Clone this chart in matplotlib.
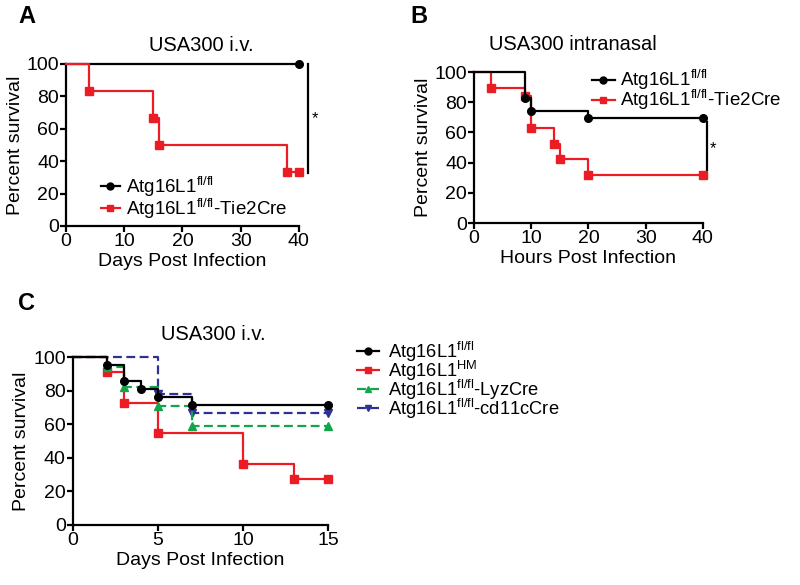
import numpy as np
import matplotlib
matplotlib.use("Agg")
import matplotlib.pyplot as plt

plt.rcParams['font.family'] = ['Liberation Sans', 'DejaVu Sans']
plt.rcParams['mathtext.fontset'] = 'custom'
plt.rcParams['mathtext.rm'] = 'Liberation Sans'
plt.rcParams['mathtext.it'] = 'Liberation Sans'

# DATA ------------------------------------------------------
RED = '#ec1c24'
GREEN = '#13a54b'
BLUE = '#2e3192'
BLACK = '#000000'

lab_fl = r'Atg16L1$^{\mathrm{fl/fl}}$'
lab_tie = r'Atg16L1$^{\mathrm{fl/fl}}$-Tie2Cre'
lab_hm = r'Atg16L1$^{\mathrm{HM}}$'
lab_lyz = r'Atg16L1$^{\mathrm{fl/fl}}$-LyzCre'
lab_cd11 = r'Atg16L1$^{\mathrm{fl/fl}}$-cd11cCre'

# panel A (days)
a_fl_t = [0, 40]
a_fl_s = [100, 100]
a_tie_t = [0, 4, 15, 16, 38, 40]
a_tie_s = [100, 83.3, 66.7, 50.0, 33.3, 33.3]

# panel B (hours)
b_fl_t = [0, 9, 10, 20, 40]
b_fl_s = [100, 82.6, 73.9, 69.6, 69.6]
b_tie_t = [0, 3, 9, 10, 14, 15, 20, 40]
b_tie_s = [100, 89.5, 84.2, 63.2, 52.6, 42.1, 31.6, 31.6]

# panel C (days)
c_fl_t = [0, 2, 3, 4, 5, 7, 15]
c_fl_s = [100, 95.2, 85.7, 81.0, 76.2, 71.4, 71.4]
c_hm_t = [0, 2, 3, 5, 10, 13, 15]
c_hm_s = [100, 90.9, 72.7, 54.5, 36.4, 27.3, 27.3]
c_lyz_t = [0, 2, 3, 5, 7, 15]
c_lyz_s = [100, 94.1, 82.4, 70.6, 58.8, 58.8]
c_cd_t = [0, 5, 7, 15]
c_cd_s = [100, 77.8, 66.7, 66.7]


def km(ax, t, s, color, marker, label, ls='-', ms=5.5, z=3):
    kw = dict(dashes=(4, 2)) if ls == '--' else {}
    ax.step(t, s, where='post', color=color, lw=1.6, clip_on=False, zorder=z, **kw)
    ax.plot(t[1:], s[1:], ls='none', marker=marker, color=color, ms=ms,
            clip_on=False, zorder=z + 1)
    # legend proxy
    ax.plot([], [], color=color, lw=1.6, marker=marker, ms=ms - 0.5, label=label, **kw)


def style(ax, xmax, xticks, xlabel):
    ax.set_xlim(0, xmax)
    ax.set_ylim(0, 100)
    ax.set_xticks(xticks)
    ax.set_yticks([0, 20, 40, 60, 80, 100])
    for sp in ['top', 'right']:
        ax.spines[sp].set_visible(False)
    for sp in ['left', 'bottom']:
        ax.spines[sp].set_linewidth(1.6)
    ax.tick_params(direction='out', length=4, width=1.6, labelsize=14, pad=1)
    ax.set_xlabel(xlabel, fontsize=14, labelpad=2)
    ax.set_ylabel('Percent survival', fontsize=14, labelpad=2)


fig = plt.figure(figsize=(8, 5.85), dpi=100)

# A
axA = fig.add_axes([0.0825, 0.6137, 0.291, 0.277])
km(axA, a_fl_t, a_fl_s, BLACK, 'o', lab_fl)
km(axA, a_tie_t, a_tie_s, RED, 's', lab_tie)
style(axA, 40, [0, 10, 20, 30, 40], 'Days Post Infection')
axA.set_title('USA300 i.v.', fontsize=14.5, x=0.58, pad=9)
axA.plot([41.5, 41.5], [100, 33], color='black', lw=1.6, clip_on=False)
axA.text(42.8, 66, '*', fontsize=12, ha='center', va='center')
axA.legend(loc='center left', bbox_to_anchor=(0.126, 0.662), bbox_transform=fig.transFigure,
           frameon=False, fontsize=13.5, handlelength=1.0, handletextpad=0.35,
           labelspacing=-0.12, borderpad=0, borderaxespad=0)

# B
axB = fig.add_axes([0.5925, 0.6188, 0.286, 0.258])
km(axB, b_fl_t, b_fl_s, BLACK, 'o', lab_fl, z=4)
km(axB, b_tie_t, b_tie_s, RED, 's', lab_tie, z=2)
style(axB, 40, [0, 10, 20, 30, 40], 'Hours Post Infection')
axB.set_title('USA300 intranasal', fontsize=14.5, x=0.43, pad=16)
axB.plot([40.7, 40.7], [67, 35], color='black', lw=1.6, clip_on=False)
axB.text(41.8, 49, '*', fontsize=12, ha='center', va='center')
axB.legend(loc='center left', bbox_to_anchor=(0.74, 0.846), bbox_transform=fig.transFigure,
           frameon=False, fontsize=13.5, handlelength=1.2, handletextpad=0.3,
           labelspacing=-0.22, borderpad=0, borderaxespad=0)

# C
axC = fig.add_axes([0.091, 0.1026, 0.319, 0.287])
km(axC, c_fl_t, c_fl_s, BLACK, 'o', lab_fl, z=5)
km(axC, c_hm_t, c_hm_s, RED, 's', lab_hm, z=3)
km(axC, c_lyz_t, c_lyz_s, GREEN, '^', lab_lyz, ls='--', z=4)
km(axC, c_cd_t, c_cd_s, BLUE, 'v', lab_cd11, ls='--', z=2)
style(axC, 15, [0, 5, 10, 15], 'Days Post Infection')
axC.set_title('USA300 i.v.', fontsize=14.5, x=0.55, pad=12)
axC.legend(loc='center left', bbox_to_anchor=(0.446, 0.35), bbox_transform=fig.transFigure,
           frameon=False, fontsize=13.2, handlelength=1.2, handletextpad=0.5,
           labelspacing=-0.28, borderpad=0, borderaxespad=0)

fig.text(0.023, 0.971, 'A', fontsize=17, fontweight='bold', va='center')
fig.text(0.513, 0.971, 'B', fontsize=17, fontweight='bold', va='center')
fig.text(0.023, 0.482, 'C', fontsize=17, fontweight='bold', va='center')

fig.savefig('out.png', dpi=100)
